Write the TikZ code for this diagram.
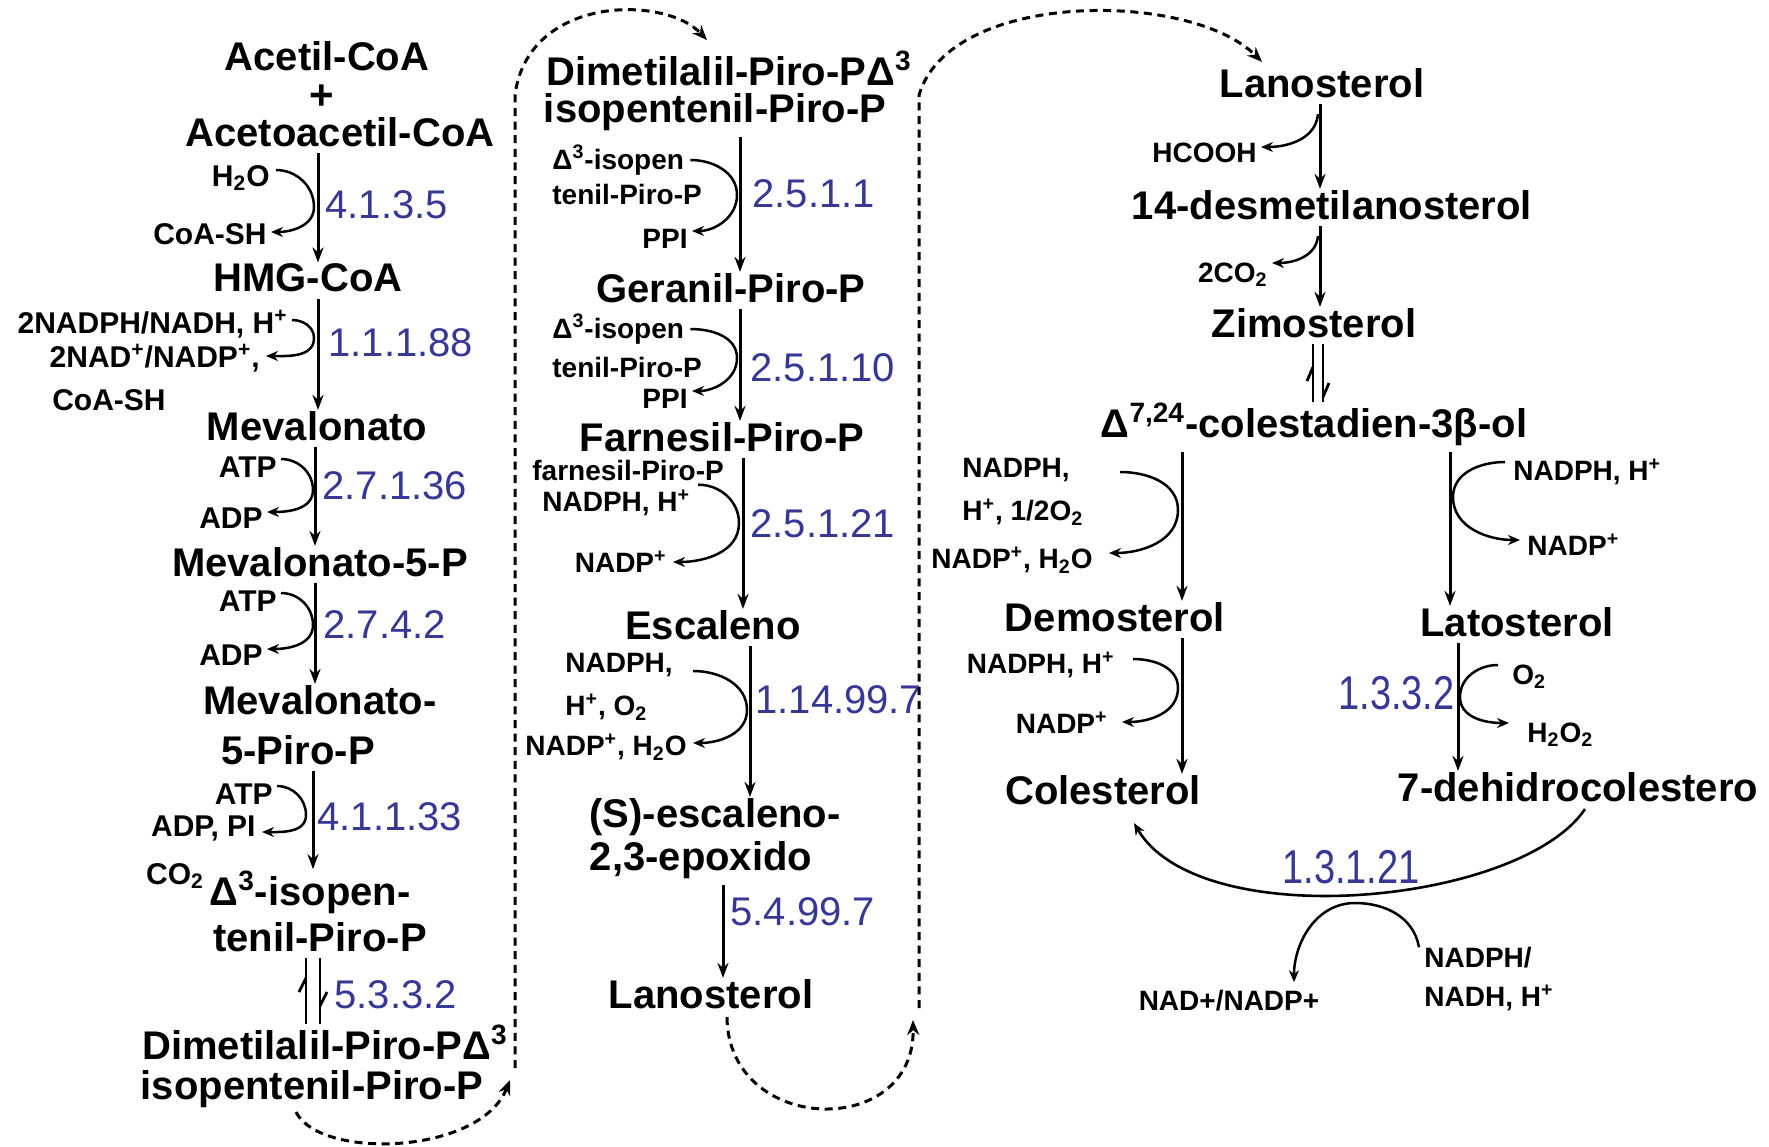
\documentclass[tikz,border=0pt]{standalone}
\usepackage{fontspec}
\setmainfont{Liberation Sans}
\usetikzlibrary{arrows.meta}
\definecolor{ecblue}{RGB}{55,55,150}
\begin{document}
\begin{tikzpicture}[x=0.5pt,y=0.5pt,
 big/.style={font=\bfseries\fontsize{20}{22}\selectfont, inner sep=0pt},
 sm/.style={font=\bfseries\fontsize{15}{17}\selectfont, inner sep=0pt},
 sms/.style={font=\bfseries\fontsize{14}{16}\selectfont, inner sep=0pt},
 ec/.style={font=\fontsize{20}{22}\selectfont, text=ecblue, inner sep=0pt},
 ecs/.style={font=\fontsize{19}{21}\selectfont, text=ecblue, inner sep=0pt},
 main/.style={line width=1.5pt, -{Stealth[length=7.5pt,width=5.5pt]}, shorten <=3pt, shorten >=0.5pt},
 eqline/.style={line width=1.4pt, shorten <=3pt},
 barb/.style={line width=1.4pt},
 cof/.style={line width=1.25pt, -{Stealth[length=6pt,width=5pt]}},
 dsh/.style={line width=1.5pt, dash pattern=on 4pt off 2.8pt, -{Stealth[length=7.5pt,width=6pt]}},
]
\fill[white] (0,0) rectangle (1769,-1147);
\useasboundingbox (0,0) rectangle (1769,-1147);

% ---------------- column 1 ----------------
\node[big] (acetil) at (327,-56) {Acetil-CoA};
\node[big,font=\bfseries\fontsize{21}{21}\selectfont] (plus) at (322,-97) {+};
\node[big] (acetoac) at (340,-132) {Acetoacetil-CoA};
\node[big] (hmg) at (308,-278) {HMG-CoA};
\node[big] (meval) at (317,-426) {Mevalonato};
\node[big] (meval5p) at (320,-562) {Mevalonato-5-P};
\node[big] (mevpp) at (320,-700) {Mevalonato-};
\node[big] (mevpp2) at (298,-750) {5-Piro-P};
\node[big] (isopen1) at (310,-892) {Δ\textsuperscript{3}-isopen-};
\node[big] (isopen2) at (320,-937) {tenil-Piro-P};
\node[big] (dimetil1a) at (325,-1042) {Dimetilalil-Piro-PΔ\textsuperscript{3}};
\node[big] (dimetil1b) at (312,-1089) {isopentenil-Piro-P};

\node[sm,anchor=east] (h2o) at (270,-178) {H\textsubscript{2}O};
\node[sm,anchor=east] (coash1) at (267,-234) {CoA-SH};
\node[sm,anchor=east] (nadph1) at (288,-324) {2NADPH/NADH, H\textsuperscript{+}};
\node[sm,anchor=east] (nad1) at (260,-358) {2NAD\textsuperscript{+}/NADP\textsuperscript{+},};
\node[sm] (coash2) at (109,-400) {CoA-SH};
\node[sm,anchor=east] (atp1) at (277,-467) {ATP};
\node[sm,anchor=east] (adp1) at (263,-518) {ADP};
\node[sm,anchor=east] (atp2) at (277,-601) {ATP};
\node[sm,anchor=east] (adp2) at (263,-655) {ADP};
\node[sm,anchor=east] (atp3) at (273,-794) {ATP};
\node[sm,anchor=east] (adppi) at (256,-828) {ADP, PI};
\node[sm] (co2) at (175,-876) {CO\textsubscript{2}};

\node[ec,anchor=west] (ec1) at (325,-205) {4.1.3.5};
\node[ec,anchor=west] (ec2) at (328,-343) {1.1.1.88};
\node[ec,anchor=west] (ec3) at (322,-486) {2.7.1.36};
\node[ec,anchor=west] (ec4) at (323,-625) {2.7.4.2};
\node[ec,anchor=west] (ec5) at (317,-817) {4.1.1.33};
\node[ec,anchor=west] (ec6) at (334,-995) {5.3.3.2};

\coordinate (xa) at (318,0);
\coordinate (xb) at (315,0);
\coordinate (xc) at (313,0);
\coordinate (eqa) at (306,0);
\coordinate (eqb) at (320,0);
\draw[main] (acetoac.south -| xa) -- (hmg.north -| xa);
\draw[main] (hmg.south -| xa) -- (meval.north -| xa);
\draw[main] (meval.south -| xb) -- (meval5p.north -| xb);
\draw[main] (meval5p.south -| xb) -- (mevpp.north -| xb);
\draw[main] (mevpp2.south -| xc) -- (isopen1.north -| xc);
\draw[eqline] (isopen2.south -| eqa) -- (dimetil1a.north -| eqa);
\draw[eqline] (isopen2.south -| eqb) -- (dimetil1a.north -| eqb);
\draw[barb] (306,-978) -- (299,-992);
\draw[barb] (320,-1006) -- (327,-992);

\draw[cof] ([xshift=3pt,yshift=4pt]h2o.east) to[out=0,in=90] (314,-207) to[out=-90,in=0] ([xshift=2pt,yshift=1pt]coash1.east);
\draw[cof] ([xshift=2pt,yshift=2pt]nadph1.east) to[out=0,in=90] (314,-338) to[out=-90,in=0] ([xshift=3pt,yshift=1pt]nad1.east);
\draw[cof] ([xshift=2pt,yshift=4pt]atp1.east) to[out=0,in=90] (313,-490) to[out=-90,in=0] ([xshift=2pt,yshift=3pt]adp1.east);
\draw[cof] ([xshift=2pt,yshift=4pt]atp2.east) to[out=0,in=90] (313,-625) to[out=-90,in=0] ([xshift=2pt,yshift=3pt]adp2.east);
\draw[cof] ([xshift=2pt,yshift=4pt]atp3.east) to[out=0,in=90] (306,-815) to[out=-90,in=0] ([xshift=3pt,yshift=-2pt]adppi.east);

% ---------------- column 2 ----------------
\node[big] (dimetil2a) at (729,-68) {Dimetilalil-Piro-PΔ\textsuperscript{3}};
\node[big] (dimetil2b) at (715,-112) {isopentenil-Piro-P};
\node[big] (geranil) at (731,-288) {Geranil-Piro-P};
\node[big] (farnesil) at (722,-437) {Farnesil-Piro-P};
\node[big] (escaleno) at (713,-625) {Escaleno};
\node[big] (sesc) at (715,-817) {(S)-escaleno-};
\node[big] (epox) at (701,-860) {2,3-epoxido};
\node[big] (lano2) at (711,-994) {Lanosterol};

\node[sms,anchor=west] (isoA1) at (552,-160) {Δ\textsuperscript{3}-isopen};
\node[sms,anchor=west] (tenA1) at (552,-194) {tenil-Piro-P};
\node[sms,anchor=east] (ppi1) at (688,-239) {PPI};
\node[sms,anchor=west] (isoA2) at (552,-329) {Δ\textsuperscript{3}-isopen};
\node[sms,anchor=west] (tenA2) at (552,-367) {tenil-Piro-P};
\node[sms,anchor=east] (ppi2) at (688,-399) {PPI};
\node[sms,anchor=west] (farn) at (532,-470) {farnesil-Piro-P};
\node[sms,anchor=west] (nadph2) at (542,-503) {NADPH, H\textsuperscript{+}};
\node[sms,anchor=east] (nadp2) at (667,-562) {NADP\textsuperscript{+}};
\node[sms,anchor=west] (nadph3) at (565,-665) {NADPH,};
\node[sms,anchor=west] (hplus3) at (565,-707) {H\textsuperscript{+}, O\textsubscript{2}};
\node[sms,anchor=east] (nadph2o3) at (687,-747) {NADP\textsuperscript{+}, H\textsubscript{2}O};

\node[ec,anchor=west] (ec7) at (752,-194) {2.5.1.1};
\node[ec,anchor=west] (ec8) at (750,-368) {2.5.1.10};
\node[ec,anchor=west] (ec9) at (750,-524) {2.5.1.21};
\node[ec,anchor=west] (ec10) at (755,-700) {1.14.99.7};
\node[ec,anchor=west] (ec11) at (730,-912) {5.4.99.7};

\coordinate (xd) at (740,0);
\coordinate (xe) at (743,0);
\coordinate (xf) at (750,0);
\coordinate (xg) at (723,0);
\draw[main] (dimetil2b.south -| xd) -- (geranil.north -| xd);
\draw[main] (geranil.south -| xd) -- (farnesil.north -| xd);
\draw[main] (farnesil.south -| xe) -- (escaleno.north -| xe);
\draw[main] (escaleno.south -| xf) -- (sesc.north -| xf);
\draw[main] (epox.south -| xg) -- (lano2.north -| xg);

\draw[cof] ([xshift=3pt]isoA1.east) to[out=0,in=90] (737,-195) to[out=-90,in=0] ([xshift=2pt,yshift=4pt]ppi1.east);
\draw[cof] ([xshift=3pt]isoA2.east) to[out=0,in=90] (737,-358) to[out=-90,in=0] ([xshift=2pt,yshift=4pt]ppi2.east);
\draw[cof] ([xshift=-13pt,yshift=-2pt]farn.south east) to[out=0,in=90] (739,-523) to[out=-90,in=0] ([xshift=3pt]nadp2.east);
\draw[cof] ([xshift=10pt,yshift=-3pt]nadph3.east) to[out=0,in=90] (747,-710) to[out=-90,in=0] ([xshift=3pt,yshift=2pt]nadph2o3.east);

% ---------------- column 3 ----------------
\node[big] (lano3) at (1322,-83) {Lanosterol};
\node[big] (desmet) at (1332,-205) {14-desmetilanosterol};
\node[big] (zimo) at (1314,-323) {Zimosterol};
\node[big] (colest) at (1314,-424) {Δ\textsuperscript{7,24}-colestadien-3β-ol};
\node[big] (demo) at (1115,-617) {Demosterol};
\node[big] (lato) at (1517,-622) {Latosterol};
\node[big] (chol) at (1103,-790) {Colesterol};
\node[big] (dhc) at (1578,-787) {7-dehidrocolestero};

\node[sms,anchor=east] (hcooh) at (1257,-153) {HCOOH};
\node[sms,anchor=east] (co2b) at (1268,-275) {2CO\textsubscript{2}};
\node[sms,anchor=west] (nadph4) at (962,-470) {NADPH,};
\node[sms,anchor=west] (h12o2) at (962,-512) {H\textsuperscript{+}, 1/2O\textsubscript{2}};
\node[sms,anchor=east] (nadph2o4) at (1093,-560) {NADP\textsuperscript{+}, H\textsubscript{2}O};
\node[sms,anchor=east] (nadph5) at (1115,-665) {NADPH, H\textsuperscript{+}};
\node[sms,anchor=east] (nadp5) at (1108,-723) {NADP\textsuperscript{+}};
\node[sms,anchor=west] (nadph6) at (1513,-472) {NADPH, H\textsuperscript{+}};
\node[sms,anchor=west] (nadp6) at (1527,-545) {NADP\textsuperscript{+}};
\node[sms,anchor=west] (o2) at (1512,-677) {O\textsubscript{2}};
\node[sms,anchor=west] (h2o2) at (1527,-735) {H\textsubscript{2}O\textsubscript{2}};
\node[sms,anchor=west] (nadphr) at (1424,-958) {NADPH/};
\node[sms,anchor=west] (nadhr) at (1424,-998) {NADH, H\textsuperscript{+}};
\node[sms] (nadpr) at (1229,-1001) {NAD+/NADP+};

\node[ecs,anchor=east] (ec12) at (1455,-693) {\scalebox{1}[1.25]{1.3.3.2}};
\node[ecs] (ec13) at (1351,-867) {\scalebox{1}[1.25]{1.3.1.21}};

\coordinate (xh) at (1320,0);
\coordinate (eqc) at (1313,0);
\coordinate (eqd) at (1323,0);
\coordinate (xi) at (1182,0);
\coordinate (xj) at (1450,0);
\coordinate (xk) at (1458,0);
\draw[main] (lano3.south -| xh) -- (desmet.north -| xh);
\draw[main] (desmet.south -| xh) -- (zimo.north -| xh);
\draw[eqline] (zimo.south -| eqc) -- (colest.north -| eqc);
\draw[eqline] (zimo.south -| eqd) -- (colest.north -| eqd);
\draw[barb] (1313,-367) -- (1307,-381);
\draw[barb] (1323,-397) -- (1329,-383);
\draw[main] (colest.south -| xi) -- (demo.north -| xi);
\draw[main] (colest.south -| xj) -- (lato.north -| xj);
\draw[main] (demo.south -| xi) -- (chol.north -| xi);
\draw[main] (lato.south -| xk) -- (dhc.north -| xk);

\coordinate (hk1) at (1318,-114);
\coordinate (hk2) at (1318,-236);
\draw[cof] (hk1) to[out=-95,in=0] ([xshift=2pt,yshift=3pt]hcooh.east);
\draw[cof] (hk2) to[out=-95,in=0] ([xshift=2pt,yshift=6pt]co2b.east);

\draw[cof] ([xshift=25pt,yshift=-1pt]nadph4.east) to[out=0,in=90] (1178,-510) to[out=-90,in=0] ([xshift=8pt,yshift=3.5pt]nadph2o4.east);
\draw[cof] ([xshift=9pt,yshift=3pt]nadph5.east) to[out=0,in=90] (1178,-688) to[out=-90,in=0] ([xshift=7pt,yshift=0.5pt]nadp5.east);
\draw[cof] ([xshift=-4pt,yshift=5pt]nadph6.west) to[out=180,in=90] (1453,-497) to[out=-90,in=180] ([xshift=-3.5pt,yshift=2.5pt]nadp6.west);
\draw[cof] ([xshift=-7pt,yshift=6pt]o2.west) to[out=180,in=90] (1460,-697) to[out=-90,in=180] ([xshift=-9pt,yshift=6pt]h2o2.west);

% big arc 7-dehidrocolesterol -> colesterol
\draw[cof,line width=1.3pt] ([xshift=3.5pt,yshift=-3.5pt]dhc.south) .. controls (1520,-905) and (1200,-935) .. ([xshift=15.5pt,yshift=-9pt]chol.south);
\coordinate (arcb) at (1355,-903);
\draw[cof] ([xshift=-2.5pt]nadphr.north west) to[out=100,in=0] (arcb) to[out=180,in=90] ([xshift=32.5pt,yshift=4pt]nadpr.north);

% ---------------- dashed connectors ----------------
\coordinate (d1a) at (510,-1080);
\draw[dsh] ([xshift=-8pt,yshift=-2pt]dimetil1b.south) .. controls (320,-1160) and (480,-1155) .. (d1a);
\coordinate (d2a) at (515,-1068);
\coordinate (d2b) at (515,-95);
\draw[dsh] (d2a) -- (d2b) .. controls (528,5) and (665,5) .. ([xshift=-11pt,yshift=5pt]dimetil2a.north);
\coordinate (d3a) at (913,-1020);
\draw[dsh] ([xshift=8pt,yshift=-4pt]lano2.south) .. controls (728,-1135) and (915,-1140) .. (d3a);
\coordinate (d4a) at (919,-1008);
\coordinate (d4b) at (919,-95);
\draw[dsh] (d4a) -- (d4b) .. controls (950,10) and (1190,10) .. ([xshift=-30pt,yshift=3pt]lano3.north);
\end{tikzpicture}
\end{document}
